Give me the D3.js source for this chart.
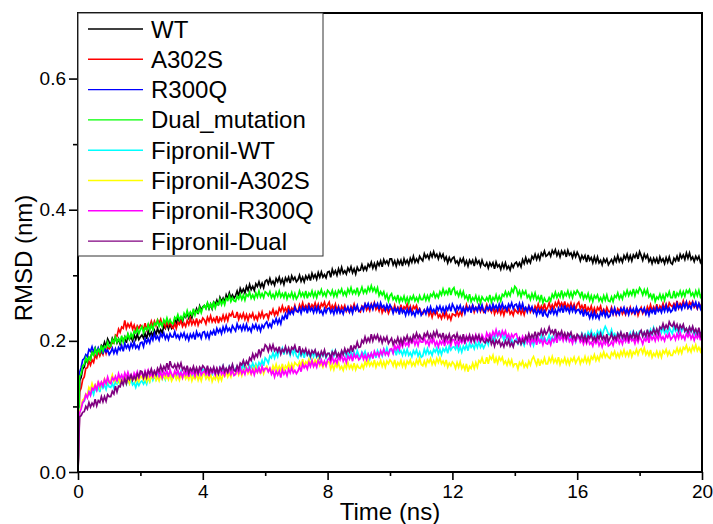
<!DOCTYPE html>
<html lang="en">
<head>
    <meta charset="UTF-8">
    <title>RMSD</title>
    <script src="https://cdn.jsdelivr.net/npm/d3@7/dist/d3.min.js"></script>
    <style>
        body { margin: 0; background: #fff; }
        text { font-family: "Liberation Sans", Arial, sans-serif; }
    </style>
</head>
<body>
<svg width="713" height="524" id="main"></svg>
<script>
    // RMSD (nm), one value every 0.05 ns from 0 to 20 ns (one row per ns)
    const dt = 0.05;

    const wt = [0,
        .139,.144,.157,.160,.172,.167,.175,.172,.183,.180,.188,.181,.188,.182,.193,.190,.198,.190,.203,.198,
        .194,.204,.199,.205,.197,.203,.195,.204,.200,.206,.197,.209,.202,.206,.200,.209,.202,.210,.202,.206,
        .209,.204,.211,.203,.215,.208,.213,.207,.216,.210,.219,.212,.217,.212,.223,.219,.226,.218,.226,.219,
        .222,.233,.227,.236,.229,.234,.229,.239,.236,.243,.235,.242,.235,.245,.242,.249,.241,.253,.247,.252,
        .254,.250,.257,.249,.256,.249,.259,.255,.262,.254,.266,.260,.265,.259,.270,.264,.273,.265,.270,.265,
        .269,.276,.268,.280,.274,.279,.273,.283,.277,.286,.278,.283,.277,.287,.283,.290,.282,.288,.281,.291,
        .293,.287,.295,.287,.291,.285,.295,.290,.297,.288,.294,.286,.296,.291,.297,.288,.299,.293,.297,.290,
        .293,.300,.291,.297,.290,.299,.294,.300,.292,.303,.296,.301,.294,.304,.297,.305,.297,.301,.296,.305,
        .306,.297,.309,.302,.307,.300,.310,.303,.312,.303,.307,.302,.311,.306,.313,.304,.310,.302,.312,.307,
        .308,.316,.308,.313,.308,.317,.313,.320,.311,.318,.310,.320,.315,.322,.313,.324,.318,.322,.316,.325,
        .325,.316,.322,.314,.323,.317,.323,.314,.325,.318,.323,.316,.326,.320,.329,.320,.325,.320,.329,.325,
        .322,.333,.327,.331,.325,.334,.328,.336,.328,.332,.325,.333,.327,.332,.323,.328,.319,.327,.321,.326,
        .328,.319,.322,.316,.325,.320,.326,.316,.322,.314,.323,.318,.323,.314,.325,.318,.322,.314,.323,.316,
        .314,.319,.311,.319,.314,.319,.310,.320,.313,.316,.309,.318,.311,.319,.310,.314,.308,.317,.312,.318,
        .320,.314,.319,.313,.324,.318,.327,.319,.324,.319,.329,.325,.332,.324,.331,.324,.334,.330,.337,.329,
        .331,.335,.329,.338,.333,.339,.330,.336,.328,.337,.332,.337,.328,.338,.331,.334,.327,.335,.328,.335,
        .330,.322,.330,.325,.330,.320,.331,.323,.327,.319,.328,.320,.328,.319,.323,.316,.325,.320,.325,.316,
        .320,.324,.318,.327,.321,.330,.321,.326,.320,.330,.325,.332,.323,.330,.322,.331,.327,.333,.325,.336,
        .330,.323,.332,.326,.331,.321,.326,.318,.326,.320,.326,.317,.328,.321,.325,.318,.327,.320,.328,.319,
        .317,.326,.322,.329,.321,.332,.326,.331,.324,.334,.326,.334,.324,.328,.321,.329,.324,.329,.320,.325];

    const a302s = [0,
        .122,.128,.141,.145,.158,.159,.169,.163,.171,.167,.178,.174,.184,.177,.184,.179,.190,.181,.190,.188,
        .191,.199,.197,.209,.207,.218,.213,.221,.219,.231,.219,.226,.221,.227,.218,.224,.215,.223,.219,.224,
        .222,.217,.227,.217,.225,.222,.230,.222,.230,.223,.232,.227,.233,.223,.228,.221,.230,.223,.231,.221,
        .219,.227,.219,.228,.225,.231,.222,.227,.222,.231,.225,.234,.225,.231,.225,.234,.224,.231,.228,.235,
        .232,.226,.236,.230,.238,.229,.234,.229,.238,.227,.235,.231,.239,.231,.239,.231,.241,.238,.244,.236,
        .236,.244,.233,.240,.235,.242,.233,.240,.231,.240,.236,.242,.233,.238,.232,.242,.236,.244,.235,.240,
        .241,.234,.244,.241,.248,.239,.245,.240,.250,.245,.253,.245,.250,.244,.254,.243,.250,.246,.254,.245,
        .245,.255,.249,.258,.249,.254,.249,.258,.248,.255,.251,.258,.249,.256,.248,.257,.253,.259,.250,.255,
        .259,.247,.254,.249,.256,.246,.253,.244,.253,.248,.254,.245,.250,.244,.253,.248,.256,.247,.252,.246,
        .244,.253,.250,.256,.247,.252,.246,.256,.250,.258,.248,.253,.246,.255,.243,.249,.245,.251,.242,.248,
        .251,.245,.254,.245,.251,.246,.255,.245,.252,.249,.256,.246,.253,.244,.253,.249,.254,.245,.249,.243,
        .241,.247,.243,.249,.239,.245,.236,.245,.240,.245,.236,.240,.234,.242,.236,.244,.234,.239,.232,.241,
        .240,.238,.245,.238,.244,.239,.250,.245,.255,.247,.252,.246,.255,.244,.251,.247,.254,.245,.252,.244,
        .248,.255,.246,.250,.244,.253,.241,.248,.243,.250,.241,.248,.239,.248,.244,.250,.241,.245,.239,.248,
        .245,.242,.249,.241,.248,.240,.250,.246,.253,.244,.249,.244,.253,.248,.256,.247,.253,.247,.257,.246,
        .251,.258,.249,.255,.249,.258,.253,.261,.253,.258,.252,.260,.249,.256,.251,.258,.249,.256,.247,.256,
        .259,.249,.254,.247,.256,.244,.251,.246,.253,.243,.250,.242,.251,.247,.253,.243,.248,.242,.251,.245,
        .244,.251,.241,.248,.240,.249,.245,.250,.241,.246,.240,.249,.243,.251,.242,.247,.241,.250,.239,.246,
        .251,.242,.248,.242,.252,.246,.255,.246,.252,.246,.256,.245,.253,.249,.257,.248,.256,.248,.258,.254,
        .252,.257,.252,.261,.250,.257,.253,.261,.252,.259,.251,.259,.255,.260,.251,.255,.249,.257,.251,.258];

    const r300q = [0,
        .152,.159,.171,.173,.179,.176,.187,.184,.191,.183,.189,.180,.189,.183,.189,.180,.190,.183,.186,.179,
        .183,.189,.181,.188,.181,.190,.186,.193,.184,.196,.189,.194,.187,.196,.190,.198,.189,.193,.188,.197,
        .198,.191,.203,.197,.203,.197,.207,.201,.211,.203,.207,.201,.211,.206,.212,.203,.209,.202,.211,.206,
        .206,.214,.205,.209,.203,.211,.206,.212,.203,.209,.201,.210,.205,.211,.202,.214,.207,.211,.204,.213,
        .214,.205,.212,.204,.214,.210,.216,.208,.219,.213,.218,.211,.221,.214,.223,.215,.219,.214,.223,.219,
        .215,.226,.219,.223,.216,.224,.217,.225,.216,.220,.214,.224,.219,.225,.217,.223,.215,.224,.220,.226,
        .229,.221,.226,.221,.231,.227,.234,.226,.233,.226,.237,.233,.241,.233,.246,.241,.246,.241,.251,.246,
        .244,.250,.242,.251,.246,.251,.242,.253,.246,.250,.243,.251,.244,.252,.243,.246,.240,.249,.243,.249,
        .250,.243,.248,.241,.250,.243,.251,.243,.247,.241,.250,.246,.252,.244,.250,.242,.252,.247,.254,.245,
        .247,.252,.246,.256,.251,.257,.249,.255,.248,.257,.252,.257,.248,.258,.251,.254,.247,.255,.248,.255,
        .250,.242,.250,.245,.250,.240,.251,.243,.247,.239,.248,.241,.249,.240,.244,.238,.247,.242,.248,.239,
        .243,.247,.241,.250,.244,.252,.244,.248,.243,.252,.247,.253,.245,.251,.243,.252,.247,.254,.245,.256,
        .251,.245,.253,.248,.254,.245,.251,.242,.251,.246,.252,.243,.254,.247,.251,.245,.254,.247,.255,.246,
        .243,.252,.248,.254,.245,.256,.249,.254,.247,.256,.249,.257,.249,.253,.247,.256,.251,.258,.249,.255,
        .256,.248,.257,.249,.257,.247,.251,.244,.253,.247,.252,.243,.248,.239,.248,.242,.247,.237,.248,.240,
        .237,.246,.242,.249,.241,.247,.240,.250,.245,.252,.243,.254,.246,.250,.243,.252,.245,.252,.243,.247,
        .248,.242,.247,.237,.248,.240,.243,.235,.243,.235,.244,.235,.240,.234,.244,.239,.246,.237,.244,.236,
        .238,.248,.241,.250,.241,.245,.240,.249,.245,.251,.242,.248,.240,.249,.244,.249,.240,.251,.244,.248,
        .249,.244,.250,.241,.247,.239,.248,.243,.249,.240,.251,.245,.249,.243,.252,.245,.254,.245,.250,.244,
        .247,.254,.245,.257,.250,.254,.248,.257,.251,.259,.250,.254,.249,.258,.253,.259,.250,.257,.249,.258];

    const dual = [0,
        .146,.149,.162,.164,.174,.168,.175,.171,.182,.178,.188,.180,.187,.182,.193,.184,.192,.190,.198,.191,
        .192,.202,.197,.206,.198,.203,.198,.208,.198,.206,.203,.211,.203,.211,.205,.215,.212,.219,.211,.217,
        .222,.212,.220,.217,.225,.216,.224,.217,.227,.224,.231,.222,.228,.222,.232,.227,.235,.227,.232,.227,
        .226,.236,.233,.240,.232,.237,.232,.242,.237,.246,.238,.244,.239,.249,.239,.246,.243,.251,.243,.251,
        .254,.249,.258,.250,.256,.250,.260,.250,.258,.255,.263,.255,.262,.255,.265,.262,.269,.260,.266,.261,
        .260,.268,.264,.271,.263,.270,.262,.271,.268,.274,.265,.270,.264,.273,.267,.276,.267,.272,.266,.275,
        .273,.269,.275,.266,.271,.265,.274,.268,.276,.267,.272,.266,.275,.264,.271,.267,.274,.265,.272,.264,
        .268,.276,.268,.273,.267,.276,.265,.273,.269,.276,.267,.274,.266,.275,.271,.278,.269,.274,.268,.277,
        .274,.270,.277,.268,.275,.268,.277,.273,.279,.270,.275,.269,.279,.273,.281,.272,.277,.272,.281,.270,
        .275,.282,.273,.278,.273,.282,.276,.284,.276,.281,.274,.281,.269,.275,.270,.275,.265,.271,.261,.269,
        .272,.263,.267,.261,.270,.259,.266,.261,.268,.259,.266,.258,.267,.263,.269,.261,.266,.260,.269,.263,
        .263,.270,.262,.269,.262,.271,.268,.274,.266,.271,.266,.275,.270,.279,.271,.276,.271,.281,.270,.278,
        .281,.271,.275,.268,.276,.268,.275,.265,.269,.262,.271,.260,.266,.262,.269,.260,.267,.258,.267,.263,
        .261,.266,.261,.270,.259,.266,.262,.270,.261,.268,.261,.271,.268,.275,.268,.274,.269,.279,.274,.283,
        .280,.270,.276,.267,.276,.271,.276,.266,.270,.263,.272,.265,.273,.263,.268,.261,.270,.258,.265,.260,
        .260,.266,.261,.271,.266,.274,.266,.272,.267,.277,.266,.273,.269,.276,.267,.274,.266,.275,.271,.277,
        .273,.267,.275,.264,.270,.265,.272,.262,.269,.260,.269,.265,.270,.261,.266,.260,.269,.262,.270,.261,
        .260,.267,.260,.269,.266,.273,.264,.270,.264,.274,.269,.277,.269,.275,.270,.279,.269,.277,.273,.281,
        .277,.270,.278,.271,.278,.267,.271,.264,.272,.260,.267,.264,.271,.263,.270,.262,.272,.268,.275,.266,
        .266,.276,.265,.273,.269,.276,.268,.275,.268,.277,.273,.278,.269,.273,.267,.276,.269,.277,.267,.272];

    const fipWt = [0,
        .095,.099,.106,.108,.117,.115,.124,.117,.125,.118,.128,.124,.130,.122,.134,.128,.133,.126,.136,.130,
        .129,.135,.128,.138,.134,.140,.132,.144,.137,.142,.134,.143,.135,.142,.133,.136,.129,.137,.132,.137,
        .139,.134,.139,.134,.144,.138,.148,.140,.146,.141,.150,.145,.151,.142,.148,.141,.150,.145,.151,.142,
        .144,.149,.143,.152,.148,.154,.145,.151,.144,.153,.148,.154,.145,.156,.149,.154,.147,.156,.149,.157,
        .153,.145,.155,.150,.156,.147,.158,.152,.156,.149,.159,.152,.161,.152,.157,.151,.161,.156,.163,.154,
        .157,.161,.154,.163,.156,.165,.156,.160,.154,.163,.159,.166,.158,.165,.158,.167,.163,.170,.162,.174,
        .171,.166,.177,.174,.182,.174,.182,.176,.186,.183,.189,.179,.190,.182,.186,.178,.187,.179,.187,.177,
        .174,.183,.177,.183,.174,.185,.178,.181,.174,.183,.176,.184,.175,.179,.173,.182,.177,.183,.174,.180,
        .181,.174,.184,.177,.185,.176,.180,.175,.184,.179,.185,.176,.182,.174,.183,.177,.183,.174,.185,.178,
        .174,.183,.178,.184,.175,.180,.172,.181,.176,.182,.174,.185,.179,.183,.177,.187,.180,.189,.180,.185,
        .187,.181,.187,.178,.188,.181,.185,.178,.186,.179,.187,.178,.182,.176,.185,.180,.186,.177,.183,.175,
        .177,.187,.180,.188,.180,.184,.178,.187,.183,.189,.180,.187,.179,.188,.184,.190,.181,.192,.186,.190,
        .191,.187,.193,.184,.191,.183,.192,.187,.194,.185,.196,.190,.194,.188,.197,.190,.199,.190,.195,.189,
        .194,.201,.194,.206,.201,.207,.201,.212,.206,.216,.206,.209,.201,.209,.203,.208,.198,.202,.193,.201,
        .203,.196,.204,.195,.199,.193,.202,.197,.203,.194,.201,.193,.203,.198,.205,.196,.208,.201,.206,.199,
        .202,.209,.200,.206,.199,.208,.203,.209,.201,.212,.205,.208,.201,.210,.202,.210,.201,.205,.198,.207,
        .208,.199,.211,.205,.210,.203,.213,.207,.215,.207,.211,.205,.215,.210,.216,.207,.216,.222,.217,.210,
        .209,.217,.207,.211,.204,.212,.207,.212,.203,.208,.200,.210,.205,.212,.203,.214,.208,.212,.206,.215,
        .215,.207,.213,.206,.215,.210,.217,.208,.220,.213,.217,.210,.220,.213,.221,.212,.216,.211,.220,.215,
        .211,.222,.215,.219,.212,.222,.215,.223,.214,.218,.211,.220,.214,.220,.210,.215,.207,.215,.210,.215];

    const fipA302s = [0,
        .092,.100,.110,.112,.119,.117,.129,.125,.135,.127,.133,.128,.139,.129,.137,.134,.142,.135,.143,.136,
        .140,.148,.138,.143,.137,.146,.135,.141,.137,.144,.135,.143,.135,.144,.141,.147,.138,.143,.138,.147,
        .144,.140,.147,.138,.145,.138,.147,.143,.149,.140,.145,.139,.148,.142,.150,.142,.147,.141,.150,.139,
        .144,.150,.141,.146,.140,.149,.143,.151,.142,.147,.141,.150,.139,.146,.142,.149,.140,.147,.139,.148,
        .151,.142,.147,.141,.150,.138,.145,.141,.148,.139,.147,.140,.149,.146,.153,.145,.151,.145,.155,.150,
        .149,.156,.148,.155,.147,.156,.152,.159,.150,.155,.149,.158,.153,.161,.152,.157,.151,.161,.150,.157,
        .161,.153,.158,.152,.162,.156,.164,.155,.161,.155,.165,.154,.162,.158,.166,.158,.165,.158,.167,.164,
        .162,.168,.162,.172,.161,.168,.165,.172,.164,.171,.162,.171,.166,.172,.162,.166,.160,.168,.162,.169,
        .167,.157,.164,.156,.165,.160,.166,.157,.161,.155,.164,.158,.167,.158,.163,.157,.166,.156,.163,.159,
        .158,.164,.158,.168,.162,.170,.162,.167,.162,.171,.160,.167,.163,.170,.161,.168,.160,.169,.165,.171,
        .168,.162,.171,.160,.167,.163,.170,.161,.168,.160,.169,.165,.171,.162,.167,.162,.171,.165,.173,.164,
        .162,.169,.162,.171,.167,.173,.164,.170,.164,.173,.167,.174,.165,.169,.163,.171,.160,.166,.162,.168,
        .165,.158,.167,.160,.168,.158,.163,.156,.165,.153,.161,.158,.166,.158,.167,.160,.170,.167,.174,.166,
        .166,.175,.165,.176,.172,.178,.166,.174,.166,.175,.170,.175,.165,.169,.163,.171,.164,.171,.161,.165,
        .165,.157,.167,.163,.169,.160,.165,.160,.169,.163,.172,.176,.169,.163,.173,.162,.170,.166,.174,.165,
        .165,.174,.168,.176,.167,.172,.166,.175,.164,.171,.167,.174,.165,.172,.164,.173,.169,.175,.166,.171,
        .175,.165,.172,.168,.176,.167,.174,.166,.176,.172,.179,.170,.176,.170,.180,.175,.183,.175,.180,.175,
        .173,.182,.178,.184,.175,.181,.175,.184,.178,.186,.177,.183,.177,.187,.176,.183,.180,.187,.179,.186,
        .188,.181,.189,.179,.184,.178,.186,.175,.181,.177,.184,.176,.183,.175,.185,.181,.187,.178,.184,.178,
        .178,.185,.182,.189,.181,.188,.181,.190,.187,.193,.184,.189,.183,.192,.186,.194,.185,.190,.184,.193];

    const fipR300q = [0,
        .090,.096,.106,.109,.118,.113,.122,.117,.128,.125,.132,.125,.137,.131,.137,.131,.141,.135,.145,.137,
        .135,.144,.140,.146,.138,.150,.143,.148,.141,.151,.144,.152,.144,.148,.142,.151,.146,.153,.144,.150,
        .151,.144,.154,.147,.155,.146,.150,.145,.154,.149,.155,.146,.152,.144,.153,.148,.154,.145,.156,.149,
        .145,.154,.149,.155,.146,.152,.144,.153,.148,.154,.145,.156,.149,.153,.146,.156,.149,.157,.148,.152,
        .154,.149,.155,.146,.157,.151,.155,.148,.157,.150,.158,.149,.153,.147,.156,.152,.158,.149,.155,.147,
        .149,.158,.151,.159,.150,.155,.149,.158,.153,.159,.150,.156,.148,.157,.152,.159,.150,.161,.154,.158,
        .158,.153,.158,.149,.154,.145,.154,.148,.154,.144,.156,.149,.154,.147,.157,.151,.159,.151,.155,.150,
        .154,.161,.153,.165,.159,.163,.157,.167,.161,.170,.161,.166,.160,.170,.165,.171,.163,.169,.162,.171,
        .174,.167,.176,.167,.172,.166,.176,.171,.178,.169,.175,.167,.177,.172,.178,.169,.180,.174,.178,.171,
        .174,.181,.172,.178,.171,.180,.175,.181,.173,.184,.178,.182,.176,.185,.179,.187,.179,.183,.178,.187,
        .188,.181,.193,.187,.193,.187,.197,.191,.201,.193,.197,.192,.201,.197,.203,.194,.201,.193,.203,.198,
        .198,.205,.196,.200,.193,.202,.197,.203,.193,.199,.191,.200,.195,.201,.192,.203,.196,.200,.193,.202,
        .202,.194,.200,.193,.202,.197,.204,.195,.207,.200,.204,.198,.207,.201,.209,.200,.205,.199,.209,.204,
        .201,.212,.206,.211,.205,.214,.208,.217,.208,.213,.206,.215,.209,.215,.205,.210,.202,.210,.205,.210,
        .211,.202,.205,.199,.207,.201,.207,.197,.203,.194,.203,.198,.203,.194,.205,.198,.202,.194,.203,.196,
        .195,.201,.194,.203,.199,.206,.197,.209,.202,.207,.200,.208,.201,.208,.199,.203,.196,.205,.199,.205,
        .206,.198,.202,.195,.203,.196,.204,.195,.198,.192,.201,.196,.202,.193,.199,.191,.200,.195,.201,.192,
        .194,.199,.193,.203,.198,.204,.196,.202,.195,.204,.199,.205,.196,.207,.200,.203,.196,.205,.198,.206,
        .202,.195,.204,.200,.206,.197,.209,.202,.207,.200,.209,.202,.211,.202,.206,.200,.209,.205,.211,.202,
        .205,.209,.202,.211,.204,.213,.204,.208,.202,.211,.206,.212,.203,.209,.201,.209,.204,.210,.201,.212];

    const fipDual = [0,
        .084,.086,.091,.092,.100,.096,.106,.099,.105,.101,.111,.101,.109,.106,.115,.107,.115,.108,.118,.115,
        .115,.123,.119,.131,.122,.131,.130,.139,.133,.142,.135,.145,.141,.148,.140,.146,.141,.150,.145,.154,
        .153,.144,.152,.144,.154,.150,.157,.148,.154,.148,.158,.153,.162,.154,.161,.156,.166,.156,.169,.161,
        .159,.164,.157,.165,.159,.166,.156,.160,.154,.162,.151,.158,.154,.161,.152,.159,.151,.160,.156,.162,
        .159,.153,.162,.151,.158,.153,.160,.151,.158,.150,.159,.155,.162,.153,.158,.152,.161,.156,.164,.155,
        .154,.162,.156,.166,.163,.170,.162,.169,.164,.174,.170,.180,.173,.180,.176,.187,.178,.187,.185,.194,
        .191,.184,.193,.186,.194,.185,.189,.183,.191,.180,.187,.183,.191,.182,.189,.181,.190,.187,.193,.184,
        .183,.192,.180,.187,.182,.188,.179,.185,.177,.185,.181,.186,.177,.182,.175,.184,.178,.186,.176,.181,
        .181,.173,.183,.179,.185,.176,.181,.176,.185,.179,.188,.181,.187,.183,.193,.183,.192,.189,.198,.190,
        .191,.201,.197,.206,.198,.204,.199,.210,.200,.208,.203,.209,.200,.206,.197,.205,.200,.206,.196,.200,
        .204,.194,.201,.197,.205,.196,.203,.195,.205,.201,.208,.199,.205,.199,.209,.204,.212,.204,.209,.204,
        .202,.211,.207,.213,.204,.210,.204,.213,.207,.215,.206,.210,.204,.212,.201,.208,.203,.210,.200,.207,
        .209,.203,.211,.202,.207,.201,.210,.199,.206,.202,.209,.200,.207,.199,.208,.203,.209,.200,.205,.199,
        .197,.203,.199,.205,.195,.201,.192,.201,.196,.201,.192,.197,.191,.200,.194,.201,.192,.197,.191,.200,
        .199,.196,.203,.195,.202,.197,.207,.202,.211,.203,.209,.204,.214,.204,.212,.209,.217,.209,.217,.210,
        .214,.221,.212,.216,.210,.218,.207,.213,.209,.215,.206,.212,.204,.212,.208,.213,.204,.208,.202,.210,
        .207,.203,.210,.201,.208,.199,.208,.204,.210,.201,.206,.200,.209,.203,.211,.202,.207,.201,.210,.199,
        .204,.211,.202,.207,.202,.211,.205,.213,.205,.210,.204,.213,.202,.209,.205,.213,.204,.211,.203,.212,
        .216,.207,.213,.207,.217,.207,.214,.211,.218,.210,.218,.211,.221,.218,.226,.218,.224,.219,.229,.224,
        .222,.228,.219,.225,.216,.224,.219,.225,.215,.219,.213,.221,.215,.222,.213,.218,.211,.220,.208,.215];

    const names = ["WT", "A302S", "R300Q", "Dual_mutation", "Fipronil-WT", "Fipronil-A302S", "Fipronil-R300Q", "Fipronil-Dual"];
    const colors = ["#000000", "#ff0000", "#0000ff", "#00ff00", "#00ffff", "#ffff00", "#ff00ff", "#800080"];
    const series = [wt, a302s, r300q, dual, fipWt, fipA302s, fipR300q, fipDual];

    const xTicks = [0, 4, 8, 12, 16, 20];
    const xMinor = [2, 6, 10, 14, 18];
    const yTicks = [0, 0.2, 0.4, 0.6];
    const yMinor = [0.1, 0.3, 0.5];

    draw();

    function draw() {
        let margin = {top: 13, right: 11, bottom: 52, left: 78};
        let width = 713, height = 524;
        let svg = d3.select('#main');

        let x = d3.scaleLinear().domain([0, 20]).range([margin.left, width - margin.right]);
        let y = d3.scaleLinear().domain([0, 0.7]).range([height - margin.bottom, margin.top]);

        svg.append("defs").append("clipPath").attr("id", "clip")
            .append("rect")
            .attr("x", margin.left).attr("y", margin.top)
            .attr("width", width - margin.left - margin.right)
            .attr("height", height - margin.top - margin.bottom);

        let line = d3.line()
            .x((d, i) => x(i * dt))
            .y(d => y(d));

        svg.append("g")
            .attr("clip-path", "url(#clip)")
            .selectAll("path")
            .data(series)
            .join("path")
            .attr("fill", "none")
            .attr("stroke", (d, i) => colors[i])
            .attr("stroke-width", 1.7)
            .attr("stroke-linejoin", "miter")
            .attr("d", line);

        // axes, major + minor ticks pointing outwards
        let xAxis = svg.append("g")
            .attr("transform", `translate(0,${height - margin.bottom})`)
            .call(d3.axisBottom(x).tickValues(xTicks).tickSize(8).tickPadding(5).tickSizeOuter(0));
        svg.append("g")
            .attr("transform", `translate(0,${height - margin.bottom})`)
            .call(d3.axisBottom(x).tickValues(xMinor).tickSize(4).tickFormat("").tickSizeOuter(0))
            .call(g => g.select(".domain").remove());

        let yAxis = svg.append("g")
            .attr("transform", `translate(${margin.left},0)`)
            .call(d3.axisLeft(y).tickValues(yTicks).tickFormat(d3.format(".1f")).tickSize(9).tickPadding(3).tickSizeOuter(0));
        svg.append("g")
            .attr("transform", `translate(${margin.left},0)`)
            .call(d3.axisLeft(y).tickValues(yMinor).tickSize(5).tickFormat("").tickSizeOuter(0))
            .call(g => g.select(".domain").remove());

        svg.selectAll(".tick line").attr("stroke-width", 1.6);
        svg.selectAll(".tick text").attr("font-size", 19).attr("font-family", "Liberation Sans, Arial, sans-serif").attr("fill", "#000");

        // frame
        svg.append("rect")
            .attr("x", margin.left).attr("y", margin.top)
            .attr("width", width - margin.left - margin.right)
            .attr("height", height - margin.top - margin.bottom)
            .attr("fill", "none")
            .attr("stroke", "#000")
            .attr("stroke-width", 2);
        xAxis.select(".domain").remove();
        yAxis.select(".domain").remove();

        // axis titles
        svg.append("text")
            .attr("x", (margin.left + width - margin.right) / 2)
            .attr("y", 520)
            .attr("text-anchor", "middle")
            .attr("font-size", 24)
            .text("Time (ns)");
        svg.append("text")
            .attr("transform", "translate(32,258) rotate(-90)")
            .attr("text-anchor", "middle")
            .attr("font-size", 24)
            .text("RMSD (nm)");

        // legend
        let legend = svg.append("g");
        legend.append("rect")
            .attr("x", margin.left).attr("y", margin.top)
            .attr("width", 245).attr("height", 243)
            .attr("fill", "#fff")
            .attr("stroke", "#333")
            .attr("stroke-width", 1);
        let rows = legend.selectAll("g.row")
            .data(names)
            .join("g")
            .attr("class", "row")
            .attr("transform", (d, i) => `translate(0,${29 + i * 30.3})`);
        rows.append("line")
            .attr("x1", 88).attr("x2", 143)
            .attr("stroke", (d, i) => colors[i])
            .attr("stroke-width", 1.4);
        rows.append("text")
            .attr("x", 151)
            .attr("y", 8.5)
            .attr("font-size", 24)
            .text(d => d);
    }
</script>
</body>
</html>
